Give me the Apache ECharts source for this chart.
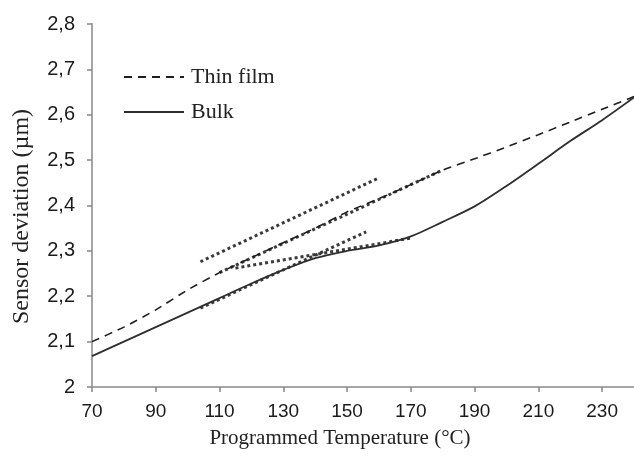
<!DOCTYPE html>
<html>
<head>
<meta charset="utf-8">
<script src="https://cdn.jsdelivr.net/npm/echarts@6/dist/echarts.min.js"></script>
<style>
  html, body { margin: 0; padding: 0; background: #fff; }
  #chart { width: 634px; height: 470px; }
</style>
</head>
<body>
<div id="chart"></div>
<script>
// Programmed temperature (°C) of each sample
const temps = [70, 80, 90, 100, 110, 120, 130, 140, 150, 160, 170, 180, 190, 200, 210, 220, 230, 240];
// Sensor deviation (µm) for the thin film
const thinFilm = [2.100, 2.132, 2.170, 2.214, 2.252, 2.285, 2.318, 2.350, 2.386, 2.415, 2.446, 2.478, 2.503, 2.529, 2.556, 2.584, 2.612, 2.640];
// Sensor deviation (µm) for the bulk material
const bulk = [2.068, 2.100, 2.132, 2.164, 2.196, 2.228, 2.258, 2.284, 2.300, 2.312, 2.332, 2.364, 2.398, 2.443, 2.492, 2.542, 2.588, 2.638];

// Tangent construction lines: [temperature, deviation] end points
const tangentFilmUpper = [[104, 2.276], [160, 2.461]];
const tangentFilmLower = [[110, 2.252], [180, 2.478]];
const tangentBulkLow = [[104, 2.174], [156, 2.342]];
const tangentBulkHigh = [[115, 2.262], [170, 2.328]];

// Axis tick values and their printed labels
const xTicks = [70, 90, 110, 130, 150, 170, 190, 210, 230];
const yTicks = [2, 2.1, 2.2, 2.3, 2.4, 2.5, 2.6, 2.7, 2.8];
const yTickLabels = ['2', '2,1', '2,2', '2,3', '2,4', '2,5', '2,6', '2,7', '2,8'];

const serif = "'Liberation Serif', 'Times New Roman', serif";
const sans = "'Liberation Sans', Arial, sans-serif";
const axisGrey = '#a6a6a6';

function pairs(xs, ys) { return xs.map((x, i) => [x, ys[i]]); }

const dotted = {
  type: 'line', symbol: 'none', silent: true,
  lineStyle: { color: '#3a3a3a', width: 3, type: [3, 3] }
};

const chart = echarts.init(document.getElementById('chart'));
chart.setOption({
  animation: false,
  backgroundColor: '#fff',
  grid: { left: 92, top: 24, right: 0, bottom: 83 },
  legend: {
    orient: 'vertical', left: 118, top: 60,
    itemWidth: 60, itemHeight: 14, itemGap: 11,
    data: ['Thin film', 'Bulk'],
    itemStyle: { opacity: 0 },
    textStyle: { fontFamily: serif, fontSize: 22, color: '#222', lineHeight: 24, padding: [0, 0, 0, 2] }
  },
  xAxis: {
    type: 'value', min: 70, max: 240,
    name: 'Programmed Temperature (°C)',
    nameLocation: 'middle', nameGap: 41,
    nameTextStyle: { fontFamily: serif, fontSize: 21, color: '#222', padding: [0, 46, 0, 0] },
    axisLine: { show: true, lineStyle: { color: axisGrey, width: 2 } },
    axisTick: { show: true, customValues: xTicks, length: 5, lineStyle: { color: '#888', width: 1.5 } },
    axisLabel: { customValues: xTicks, margin: 15, fontFamily: sans, fontSize: 19, color: '#1a1a1a' },
    splitLine: { show: false }
  },
  yAxis: {
    type: 'value', min: 2, max: 2.8, interval: 0.1,
    name: 'Sensor deviation (µm)',
    nameLocation: 'middle', nameGap: 58,
    nameTextStyle: { fontFamily: serif, fontSize: 24, color: '#222', padding: [0, 22, 0, 0] },
    axisLine: { show: true, lineStyle: { color: axisGrey, width: 2 } },
    axisTick: { show: true, length: 5, lineStyle: { color: '#888', width: 1.5 } },
    axisLabel: {
      margin: 17, fontFamily: sans, fontSize: 20, color: '#1a1a1a',
      formatter: v => {
        const i = yTicks.findIndex(t => Math.abs(t - v) < 1e-6);
        return i >= 0 ? yTickLabels[i] : '';
      }
    },
    splitLine: { show: false }
  },
  series: [
    Object.assign({ name: 'tangent-film-upper', data: tangentFilmUpper }, dotted),
    Object.assign({ name: 'tangent-film-lower', data: tangentFilmLower }, dotted),
    Object.assign({ name: 'tangent-bulk-low', data: tangentBulkLow }, dotted),
    Object.assign({ name: 'tangent-bulk-high', data: tangentBulkHigh }, dotted),
    {
      name: 'Thin film', type: 'line', symbol: 'none', smooth: 0.2,
      data: pairs(temps, thinFilm),
      itemStyle: { color: '#1e1e1e' },
      lineStyle: { color: '#1e1e1e', width: 1.6, type: [8, 6] }
    },
    {
      name: 'Bulk', type: 'line', symbol: 'none', smooth: 0.3,
      data: pairs(temps, bulk),
      itemStyle: { color: '#2e2e2e' },
      lineStyle: { color: '#2e2e2e', width: 1.8, type: 'solid' }
    }
  ]
});
</script>
</body>
</html>
